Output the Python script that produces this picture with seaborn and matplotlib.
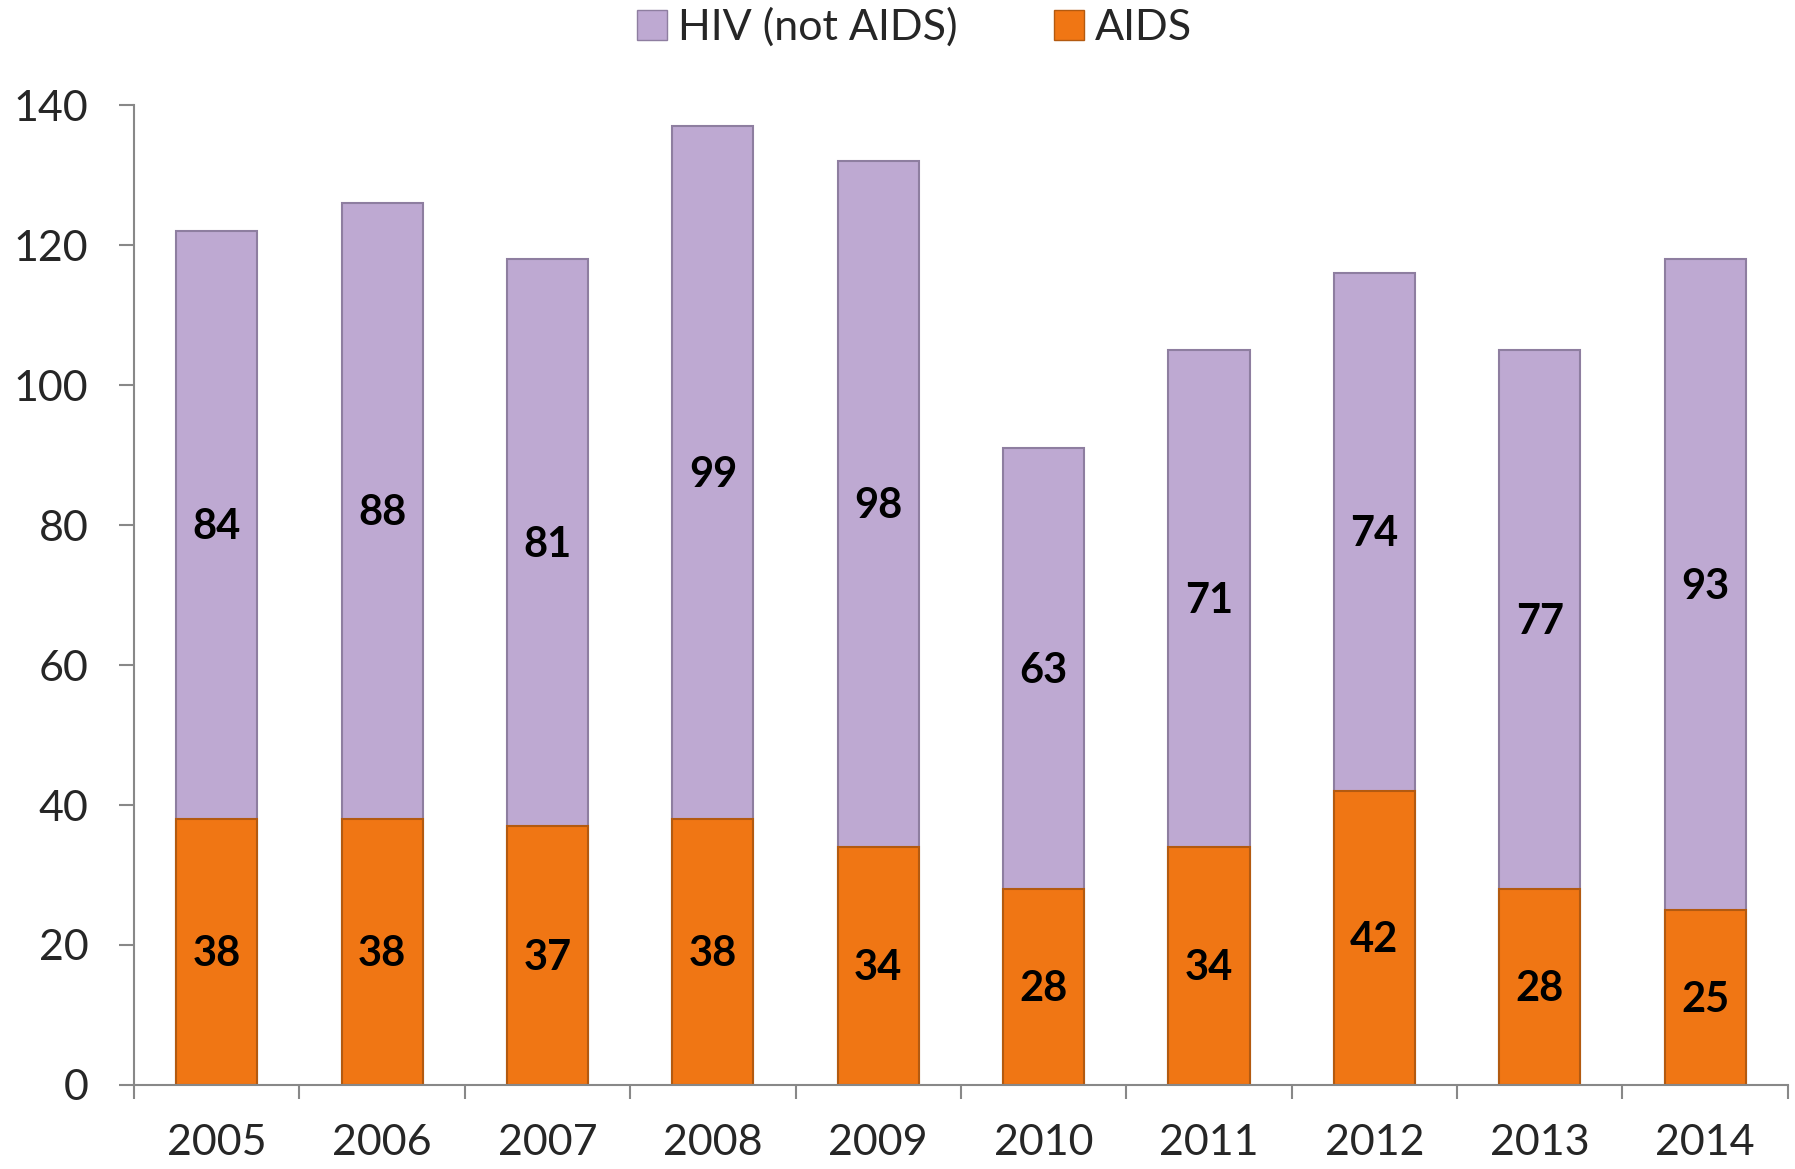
import matplotlib
matplotlib.use("Agg")
import matplotlib.pyplot as plt
import seaborn as sns
import numpy as np
import pandas as pd
from matplotlib.lines import Line2D

years = ["2005", "2006", "2007", "2008", "2009", "2010", "2011", "2012", "2013", "2014"]
aids = [38, 38, 37, 38, 34, 28, 34, 42, 28, 25]
hiv_not_aids = [84, 88, 81, 99, 98, 63, 71, 74, 77, 93]
series_labels = ["HIV (not AIDS)", "AIDS"]
y_ticks = [0, 20, 40, 60, 80, 100, 120, 140]

purple = "#BEA9D2"
orange = "#F07614"

sns.set_theme(style="white")
plt.rcParams['font.family'] = ['Lato', 'DejaVu Sans']

df = pd.DataFrame({"year": years, "aids": aids, "hiv": hiv_not_aids})
df["total"] = df["aids"] + df["hiv"]

fig = plt.figure(figsize=(17.95, 11.69), dpi=100)
ax = fig.add_axes([0.0747, 0.0719, 0.9213, 0.8381])

sns.barplot(data=df, x="year", y="total", color=purple, width=0.49, ax=ax,
            saturation=1, edgecolor="#8E7EA0", linewidth=1.5)
sns.barplot(data=df, x="year", y="aids", color=orange, width=0.49, ax=ax,
            saturation=1, edgecolor="#B35A10", linewidth=1.5)

for i, (a, h) in enumerate(zip(aids, hiv_not_aids)):
    ax.text(i, a / 2 - 0.3, str(a), ha="center", va="center", fontsize=30, fontweight="bold", color="black")
    ax.text(i, a + h / 2 - 0.3, str(h), ha="center", va="center", fontsize=30, fontweight="bold", color="black")

ax.set_xlim(-0.5, 9.5)
ax.set_ylim(0, 140)
ax.set_yticks(y_ticks)
ax.set_yticklabels([str(v) for v in y_ticks], fontsize=31)
ax.set_xticks(range(len(years)))
ax.set_xticklabels(years, fontsize=31)
ax.set_xticks(np.arange(-0.5, 10.0, 1.0), minor=True)
ax.tick_params(axis="x", which="major", length=0, pad=28)
ax.tick_params(axis="x", which="minor", length=10, width=1.5, color="#888888", direction="out", bottom=True)
ax.tick_params(axis="y", which="major", length=11, width=1.5, color="#888888", direction="out", left=True, pad=22)
ax.set_xlabel("")
ax.set_ylabel("")
for side in ["top", "right"]:
    ax.spines[side].set_visible(False)
for side in ["left", "bottom"]:
    ax.spines[side].set_color("#888888")
    ax.spines[side].set_linewidth(1.5)
ax.grid(False)

handles = [Line2D([0], [0], marker="s", linestyle="none", markersize=22, markerfacecolor=purple, markeredgecolor="#8E7EA0"),
           Line2D([0], [0], marker="s", linestyle="none", markersize=22, markerfacecolor=orange, markeredgecolor="#B35A10")]
fig.legend(handles, series_labels, loc="center", bbox_to_anchor=(0.509, 0.977), ncol=2,
           frameon=False, fontsize=31, handletextpad=0.2, columnspacing=2.2, handlelength=0.8)

fig.savefig("out.png", dpi=100)
